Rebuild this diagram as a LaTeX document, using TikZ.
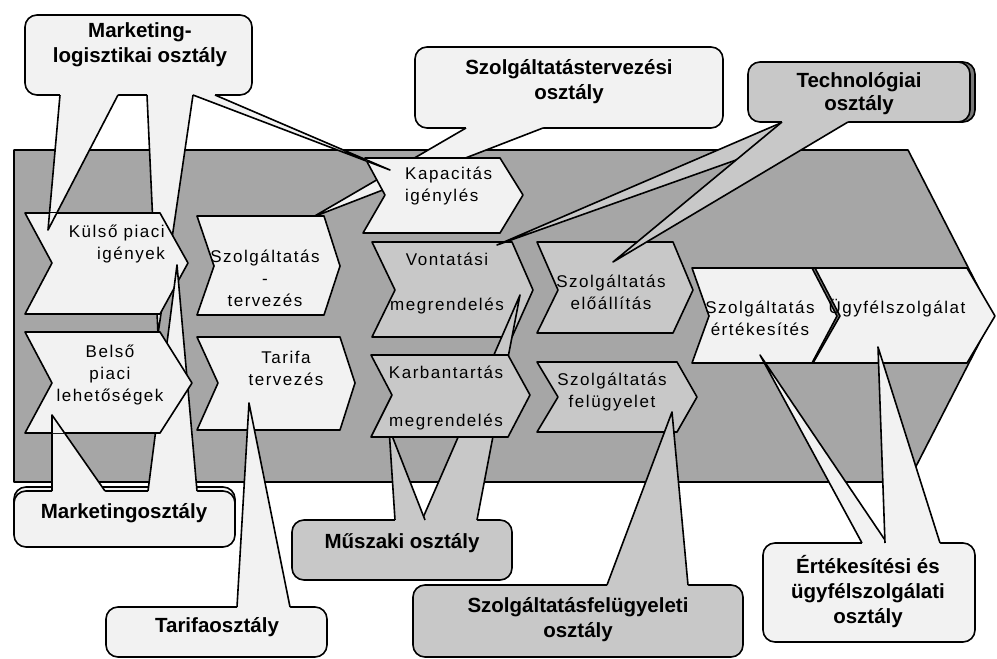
\documentclass[tikz,border=0pt]{standalone}
\usepackage{fontspec}
\setmainfont{Liberation Sans}
\newfontfamily\chevfont[LetterSpace=9]{Liberation Sans}
\usepackage{tikz}
\usetikzlibrary{positioning}
\definecolor{bggray}{RGB}{166,166,166}
\definecolor{lightfill}{RGB}{242,242,242}
\definecolor{midfill}{RGB}{200,200,200}
\definecolor{shadowgray}{RGB}{120,120,120}
% pointer of a callout: fill, left x, right x, base y, inner offset, tip
\newcommand{\calltail}[6]{%
  \fill[#1] (#2,#4) -- #6 -- (#3,#4) -- (#3,{#4+#5}) -- (#2,{#4+#5}) -- cycle;
  \draw[outline] (#2,#4) -- #6 -- (#3,#4);}

\begin{document}
\begin{tikzpicture}[x=1pt, y=-1pt, line join=round,
    outline/.style={draw=black, line width=1.6pt},
    lightchev/.style={outline, fill=lightfill},
    midchev/.style={outline, fill=midfill},
    bubble/.style={outline, rounded corners=12pt},
    chevtext/.style={font=\chevfont\fontsize{17}{22}\selectfont, align=center, inner sep=0pt},
    boxtext/.style={font=\bfseries\fontsize{20.5}{25}\selectfont, align=center, inner sep=0pt}]
    \useasboundingbox (0,0) rectangle (997,659);
    % big process arrow
    \draw[outline, fill=bggray] (14,150) -- (908,150) -- (993,316) -- (908,482) -- (14,482) -- cycle;

    % callouts lying under the chevrons
    \draw[bubble, fill=lightfill] (415,47) rectangle (723,128);
    \calltail{lightfill}{466}{543}{128}{-5}{(313,217)}
    \draw[bubble, fill=lightfill] (25,15) rectangle (252,95);
    \calltail{lightfill}{147}{193}{95}{-5}{(158,334)}
    \calltail{lightfill}{193}{215}{95}{-5}{(390,170)}
    \calltail{lightfill}{60}{118}{95}{-5}{(48,230)}

    \draw[lightchev] (25,213) -- (160,213) -- (188,263) -- (160,314) -- (25,314) -- (52,263) -- cycle;
    \draw[lightchev] (197,216) -- (324,216) -- (340,266) -- (324,315) -- (197,315) -- (214,266) -- cycle;
    \draw[lightchev] (365,158) -- (500,158) -- (523,195) -- (500,233) -- (363,233) -- (385,195) -- cycle;
    \draw[midchev] (372,242) -- (512,242) -- (533,290) -- (512,337) -- (372,337) -- (395,290) -- cycle;
    \begin{scope}
      \clip (25,213) -- (160,213) -- (188,263) -- (160,314) -- (25,314) -- (52,263) -- cycle;
      \draw[lightchev] (60,95) -- (48,230) -- (118,95) -- cycle;
    \end{scope}
    \begin{scope}
      \clip (365,158) -- (500,158) -- (523,195) -- (500,233) -- (363,233) -- (385,195) -- cycle;
      \draw[lightchev] (193,95) -- (390,170) -- (215,95) -- cycle;
    \end{scope}

    % Marketingosztaly
    \draw[bubble, fill=lightfill] (14,487) rectangle (235,543);
    \draw[bubble, fill=lightfill] (14,491) rectangle (235,547);
    \calltail{lightfill}{148}{197}{491}{5}{(177,265)}
    \calltail{lightfill}{52}{105}{491}{5}{(52,415)}
    \draw[lightchev] (25,332) -- (160,332) -- (192,383) -- (160,433) -- (25,433) -- (52,383) -- cycle;
    \begin{scope}
      \clip (25,332) -- (160,332) -- (192,383) -- (160,433) -- (25,433) -- (52,383) -- cycle;
      \draw[lightchev] (52,491) -- (52,415) -- (105,491) -- cycle;
    \end{scope}

    % Muszaki osztaly
    \draw[bubble, fill=midfill] (292,520) rectangle (512,580);
    \calltail{midfill}{422}{477}{520}{5}{(520,295)}
    \calltail{midfill}{395}{425}{520}{5}{(389,428)}

    \draw[midchev] (371,355) -- (508,355) -- (530,395) -- (508,437) -- (371,437) -- (392,395) -- cycle;
    \draw[lightchev] (197,337) -- (340,337) -- (355,383) -- (340,430) -- (197,430) -- (218,383) -- cycle;
    \draw[midchev] (537,242) -- (673,242) -- (693,290) -- (673,333) -- (537,333) -- (558,290) -- cycle;
    \draw[midchev] (537,362) -- (677,362) -- (697,397) -- (677,432) -- (537,432) -- (558,397) -- cycle;
    \draw[outline, fill=shadowgray] (810,268) -- (962,268) -- (990,316) -- (962,363) -- (808,363) -- (835,316) -- cycle;
    \draw[lightchev] (692,268) -- (812,268) -- (837,316) -- (812,363) -- (692,363) -- (709,316) -- cycle;
    \draw[lightchev] (815,268) -- (967,268) -- (995,316) -- (967,363) -- (813,363) -- (840,316) -- cycle;

    % callouts on top
    \draw[bubble, fill=shadowgray] (753,62) rectangle (975,122);
    \draw[bubble, fill=midfill] (748,62) rectangle (970,122);
    \calltail{midfill}{783}{843}{122}{-5}{(497,245)}
    \calltail{midfill}{782}{848}{122}{-5}{(613,262)}

    \draw[bubble, fill=lightfill] (106,607) rectangle (327,657);
    \calltail{lightfill}{237}{290}{607}{5}{(249,403)}

    \draw[bubble, fill=midfill] (413,585) rectangle (743,657);
    \calltail{midfill}{607}{688}{585}{5}{(672,412)}

    \draw[bubble, fill=lightfill] (763,543) rectangle (975,642);
    \calltail{lightfill}{862}{887}{543}{5}{(760,355)}
    \calltail{lightfill}{885}{940}{543}{5}{(878,347)}

    % chevron labels
    \node[chevtext, align=right, anchor=east] (kulso) at (165,244) {Külső piaci\\igények};
    \node[chevtext] (belso) at (110,375) {Belső\\piaci\\lehetőségek};
    \node[chevtext] (szterv) at (265,278) {Szolgáltatás\\-\\tervezés};
    \node[chevtext] (tarifa) at (286,368) {Tarifa\\tervezés};
    \node[chevtext, align=left, anchor=west] (kapac) at (405,186) {Kapacitás\\igénylés};
    \node[chevtext] (vont) at (447,284) {Vontatási\\[23pt]megrendelés};
    \node[chevtext] (karb) at (446,398) {Karbantartás\\[26pt]megrendelés};
    \node[chevtext] (eloall) at (611,292) {Szolgáltatás\\előállítás};
    \node[chevtext] (felugy) at (612,392) {Szolgáltatás\\felügyelet};
    \node[chevtext] (ertek) at (760,318) {Szolgáltatás\\értékesítés};
    \node[chevtext] (ugyfel) at (897,308) {Ügyfélszolgálat};

    % department labels
    \node[boxtext] (mlog) at (140,45) {Marketing-\\logisztikai osztály};
    \node[boxtext] (stterv) at (569,82) {Szolgáltatástervezési\\osztály};
    \node[boxtext] (techn) at (859,94) {Technológiai\\[-2pt]osztály};
    \node[boxtext] (mkto) at (124,513) {Marketingosztály};
    \node[boxtext] (tarifao) at (217,627) {Tarifaosztály};
    \node[boxtext] (muszaki) at (402,543) {Műszaki osztály};
    \node[boxtext] (szfel) at (578,620) {Szolgáltatásfelügyeleti\\osztály};
    \node[boxtext] (ertosz) at (868,592) {Értékesítési és\\ügyfélszolgálati\\osztály};
\end{tikzpicture}
\end{document}
